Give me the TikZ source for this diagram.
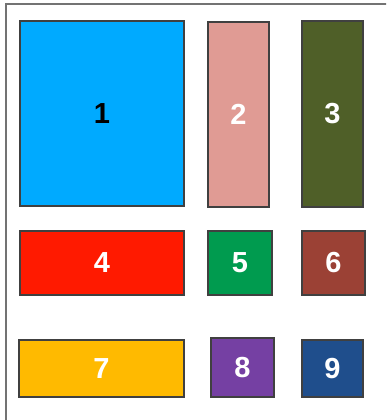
\documentclass[tikz,border=0pt]{standalone}
\usepackage{fontspec}
\setmainfont{Liberation Sans}

\definecolor{tileone}{HTML}{00AAFF}
\definecolor{tiletwo}{HTML}{E09B94}
\definecolor{tilethree}{HTML}{4F5F28}
\definecolor{tilefour}{HTML}{FF1A00}
\definecolor{tilefive}{HTML}{009B4F}
\definecolor{tilesix}{HTML}{9B4135}
\definecolor{tileseven}{HTML}{FFBA00}
\definecolor{tileeight}{HTML}{7540A3}
\definecolor{tilenine}{HTML}{1F4E8C}

\tikzset{
    tile/.style={draw=black!75, line width=1.2pt, text=white,
        font=\fontsize{29}{32}\selectfont\bfseries, inner sep=0pt}
}

\begin{document}
\begin{tikzpicture}[x=1pt, y=-1pt]
    % Page size and clipping of the outer frame
    \useasboundingbox (0,0) rectangle (386,420);
    \clip (0,0) rectangle (386,420);

    % Outer frame (runs off the right and bottom edges)
    \draw[line width=2pt, black!55] (6,4) rectangle (420,460);

    % Top row
    \node[tile, fill=tileone, text=black, minimum width=164pt, minimum height=185pt] (one) at (102,113.5) {1};
    \node[tile, fill=tiletwo, minimum width=61pt, minimum height=185pt] (two) at (238.5,114.5) {2};
    \node[tile, fill=tilethree, minimum width=61pt, minimum height=186pt] (three) at (332.5,114) {3};

    % Middle row
    \node[tile, fill=tilefour, minimum width=164pt, minimum height=64pt] (four) at (102,263) {4};
    \node[tile, fill=tilefive, minimum width=64pt, minimum height=64pt] (five) at (240,263) {5};
    \node[tile, fill=tilesix, minimum width=63pt, minimum height=64pt] (six) at (333.5,263) {6};

    % Bottom row
    \node[tile, fill=tileseven, minimum width=165pt, minimum height=57pt] (seven) at (101.5,368.5) {7};
    \node[tile, fill=tileeight, minimum width=63pt, minimum height=59pt] (eight) at (242.5,367.5) {8};
    \node[tile, fill=tilenine, minimum width=61pt, minimum height=57pt] (nine) at (332.5,368.5) {9};
\end{tikzpicture}
\end{document}
